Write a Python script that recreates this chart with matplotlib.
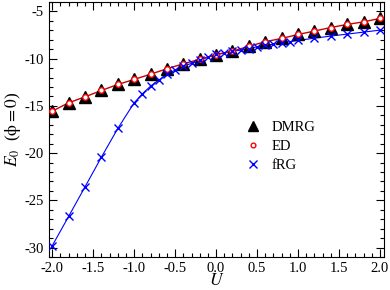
import matplotlib
matplotlib.use("Agg")
import matplotlib.pyplot as plt
from matplotlib.ticker import MultipleLocator, FormatStrFormatter

plt.rcParams['font.family'] = ['Liberation Serif', 'DejaVu Serif']
plt.rcParams['mathtext.fontset'] = 'stix'
plt.rcParams['axes.unicode_minus'] = False

U_dmrg = [-2.0, -1.8, -1.6, -1.4, -1.2, -1.0, -0.8, -0.6, -0.4, -0.2, 0.0,
          0.2, 0.4, 0.6, 0.8, 1.0, 1.2, 1.4, 1.6, 1.8, 2.0]
E_dmrg = [-15.56, -14.67, -14.04, -13.37, -12.73, -12.2, -11.64, -11.07, -10.54,
          -10.08, -9.59, -9.2, -8.7, -8.2, -7.86, -7.44, -7.08, -6.7, -6.38, -6.1, -5.74]
E_ed = E_dmrg

U_frg = [-2.0, -1.8, -1.6, -1.4, -1.2, -1.0, -0.9, -0.8, -0.7, -0.6, -0.5, -0.4,
         -0.3, -0.2, -0.1, 0.0, 0.1, 0.2, 0.3, 0.4, 0.5, 0.6, 0.7, 0.8, 0.9, 1.0,
         1.2, 1.4, 1.6, 1.8, 2.0]
E_frg = [-29.8, -26.7, -23.57, -20.43, -17.39, -14.67, -13.72, -12.91, -12.27,
         -11.67, -11.2, -10.79, -10.5, -10.18, -9.84, -9.55, -9.38, -9.2, -9.1,
         -8.95, -8.74, -8.6, -8.46, -8.35, -8.2, -8.07, -7.83, -7.61, -7.4, -7.19, -6.98]

fig = plt.figure(figsize=(3.9, 2.9), dpi=100)
ax = fig.add_axes([0.1256, 0.1138, 0.859, 0.8793])

ax.plot(U_dmrg, E_ed, '-', color='#cc0000', lw=1.0, zorder=2)
ax.plot(U_frg, E_frg, '-', color='blue', lw=0.8, zorder=1)
ax.plot(U_dmrg, E_dmrg, '^', color='black', ms=8, ls='none', zorder=3, label='DMRG')
ax.plot(U_dmrg, E_ed, 'o', mfc='white', mec='red', mew=1.0, ms=4, ls='none', zorder=4, label='ED')
ax.plot(U_frg, E_frg, 'x', color='blue', mew=1.0, ms=6, ls='none', zorder=5, label='fRG')

ax.set_xlim(-2.04, 2.05)
ax.set_ylim(-31, -4)
ax.xaxis.set_major_locator(MultipleLocator(0.5))
ax.xaxis.set_minor_locator(MultipleLocator(0.1))
ax.yaxis.set_major_locator(MultipleLocator(5))
ax.yaxis.set_minor_locator(MultipleLocator(1))
ax.xaxis.set_major_formatter(FormatStrFormatter('%.1f'))
ax.yaxis.set_major_formatter(FormatStrFormatter('%d'))
ax.tick_params(which='both', direction='in', top=True, right=True, labelsize=10.5)
ax.tick_params(which='major', length=5.5, width=0.8)
ax.tick_params(which='minor', length=3, width=0.8)
for s in ax.spines.values():
    s.set_linewidth(0.8)

ax.set_xlabel('$U$', fontsize=12.5, labelpad=-1)
ax.set_ylabel(r'$E_0$  ($\mathrm{\phi = 0}$)', fontsize=12.5, labelpad=1)

leg = ax.legend(loc='center left', bbox_to_anchor=(0.543, 0.435), frameon=False,
                fontsize=10.5, handletextpad=0.7, labelspacing=0.4, handlelength=1.2,
                markerscale=0.85)

fig.savefig('out.png', dpi=100)
